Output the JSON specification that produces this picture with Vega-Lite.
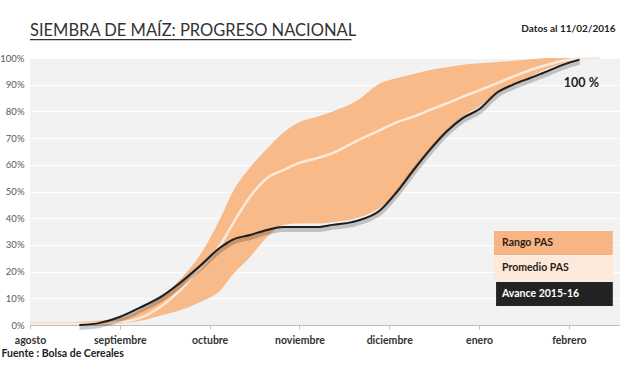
{
  "$schema": "https://vega.github.io/schema/vega-lite/v6.json",
  "width": 590,
  "height": 267,
  "autosize": {"type": "none"},
  "padding": {"left": 30, "top": 58, "right": 0, "bottom": 50},
  "background": "white",
  "config": {
    "view": {"fill": "#F2F2F2", "stroke": null},
    "font": "Lato",
    "axisY": {"tickCount": 10, "labelFontSize": 9.5, "labelColor": "#595959", "domain": false, "ticks": false, "gridColor": "#FFFFFF", "gridWidth": 1, "labelPadding": 6, "labelExpr": "datum.value + '%'", "title": null}
  },
  "datasets": {
    "curvas": [
      {"m": 0.00, "lo": 0, "hi": 1.0, "prom": 0.5, "avance": null},
      {"m": 0.33, "lo": 0, "hi": 1.0, "prom": 0.5, "avance": null},
      {"m": 0.55, "lo": 0, "hi": 1.2, "prom": 0.5, "avance": 0},
      {"m": 0.78, "lo": 0, "hi": 1.7, "prom": 0.7, "avance": 0.8},
      {"m": 1.00, "lo": 0.5, "hi": 2.5, "prom": 1.0, "avance": 3.0},
      {"m": 1.22, "lo": 1.5, "hi": 5.5, "prom": 2.6, "avance": 6.4},
      {"m": 1.48, "lo": 3.7, "hi": 11, "prom": 7.5, "avance": 11},
      {"m": 1.67, "lo": 5.5, "hi": 17, "prom": 13, "avance": 15.7},
      {"m": 1.89, "lo": 8.5, "hi": 26, "prom": 21, "avance": 22},
      {"m": 2.12, "lo": 13, "hi": 40, "prom": 30, "avance": 29},
      {"m": 2.26, "lo": 19, "hi": 50, "prom": 38, "avance": 32},
      {"m": 2.45, "lo": 25.5, "hi": 59, "prom": 48, "avance": 33.7},
      {"m": 2.64, "lo": 33, "hi": 66, "prom": 55, "avance": 35.6},
      {"m": 2.82, "lo": 37.5, "hi": 72, "prom": 58, "avance": 36.7},
      {"m": 3.00, "lo": 38, "hi": 76, "prom": 60.7, "avance": 36.7},
      {"m": 3.20, "lo": 38, "hi": 78, "prom": 62.5, "avance": 36.7},
      {"m": 3.37, "lo": 38.5, "hi": 80, "prom": 64.4, "avance": 37.5},
      {"m": 3.64, "lo": 40, "hi": 84, "prom": 69, "avance": 39},
      {"m": 3.90, "lo": 44, "hi": 90.5, "prom": 73, "avance": 43},
      {"m": 4.09, "lo": 50, "hi": 92.5, "prom": 76, "avance": 50},
      {"m": 4.27, "lo": 57, "hi": 94, "prom": 78, "avance": 58},
      {"m": 4.45, "lo": 65, "hi": 95.5, "prom": 80.5, "avance": 65.5},
      {"m": 4.64, "lo": 72, "hi": 96.5, "prom": 83, "avance": 72.5},
      {"m": 4.82, "lo": 78, "hi": 97.5, "prom": 85.5, "avance": 77.5},
      {"m": 5.01, "lo": 82, "hi": 98, "prom": 88, "avance": 81},
      {"m": 5.20, "lo": 87, "hi": 98.5, "prom": 90.5, "avance": 87},
      {"m": 5.38, "lo": 90, "hi": 99, "prom": 93, "avance": 90},
      {"m": 5.57, "lo": 93, "hi": 99.5, "prom": 95.5, "avance": 92.5},
      {"m": 5.76, "lo": 96, "hi": 100, "prom": 97.5, "avance": 95},
      {"m": 5.94, "lo": 98, "hi": 100, "prom": 99, "avance": 97.5},
      {"m": 6.12, "lo": 99.3, "hi": 100, "prom": 99.8, "avance": 99.4},
      {"m": 6.35, "lo": 100, "hi": 100, "prom": 100, "avance": null}
    ]
  },
  "layer": [
    {
      "data": {"name": "curvas"},
      "mark": {"type": "area", "interpolate": "monotone", "color": "#F8BA89", "opacity": 1},
      "encoding": {
        "x": {
          "field": "m", "type": "quantitative",
          "scale": {"domain": [0, 6.57], "nice": false, "zero": false},
          "axis": {
            "title": "Fuente : Bolsa de Cereales",
            "titleAnchor": "start", "titleAlign": "left", "titleBaseline": "alphabetic",
            "titleX": -29, "titleY": 31, "titleFontSize": 10.5, "titleFontWeight": "bold", "titleColor": "#222222",
            "values": [0, 1, 2, 3, 4, 5, 6],
            "labelExpr": "['agosto','septiembre','octubre','noviembre','diciembre','enero','febrero'][datum.value]",
            "labelFlush": false,
            "labelFontSize": 10.5, "labelFontWeight": "bold", "labelColor": "#333333", "labelPadding": 6,
            "tickSize": 4, "tickColor": "#BFBFBF", "domainColor": "#BFBFBF", "grid": false
          }
        },
        "y": {
          "field": "lo", "type": "quantitative",
          "scale": {"domain": [0, 100], "nice": false}
        },
        "y2": {"field": "hi"}
      }
    },
    {
      "data": {"name": "curvas"},
      "mark": {"type": "line", "interpolate": "monotone", "stroke": "#FDE9DA", "strokeWidth": 2.5},
      "encoding": {"x": {"field": "m", "type": "quantitative"}, "y": {"field": "prom", "type": "quantitative"}}
    },
    {
      "data": {"name": "curvas"},
      "mark": {"type": "line", "interpolate": "monotone", "stroke": "#000000", "strokeOpacity": 0.2, "strokeWidth": 6, "yOffset": 2},
      "encoding": {"x": {"field": "m", "type": "quantitative"}, "y": {"field": "avance", "type": "quantitative"}}
    },
    {
      "data": {"name": "curvas"},
      "mark": {"type": "line", "interpolate": "monotone", "stroke": "#1E1E1E", "strokeWidth": 2},
      "encoding": {"x": {"field": "m", "type": "quantitative"}, "y": {"field": "avance", "type": "quantitative"}}
    },
    {
      "data": {"values": [{"t": "SIEMBRA DE MAÍZ: PROGRESO NACIONAL"}]},
      "mark": {"type": "text", "fontSize": 16.5, "fontWeight": "normal", "color": "#333333", "align": "left", "baseline": "alphabetic"},
      "encoding": {"x": {"datum": 0, "type": "quantitative"}, "y": {"datum": 108.2, "type": "quantitative"}, "text": {"field": "t", "type": "nominal"}}
    },
    {
      "data": {"values": [{"t": "SIEMBRA DE MAÍZ: PROGRESO NACIONAL"}]},
      "mark": {"type": "rule", "color": "#333333", "strokeWidth": 1.2},
      "encoding": {"x": {"datum": 0, "type": "quantitative"}, "x2": {"datum": 3.58}, "y": {"datum": 106.9, "type": "quantitative"}}
    },
    {
      "data": {"values": [{"t": "100 %"}]},
      "mark": {"type": "text", "fontSize": 12.5, "fontWeight": "bold", "color": "#222222", "align": "center", "baseline": "middle"},
      "encoding": {"x": {"datum": 6.14, "type": "quantitative"}, "y": {"datum": 90.6, "type": "quantitative"}, "text": {"field": "t", "type": "nominal"}}
    },
    {
      "data": {"values": [{"t": "Datos al 11/02/2016"}]},
      "mark": {"type": "text", "fontSize": 10, "fontWeight": "bold", "color": "#222222", "align": "left", "baseline": "middle"},
      "encoding": {"x": {"datum": 5.47, "type": "quantitative"}, "y": {"datum": 111.0, "type": "quantitative"}, "text": {"field": "t", "type": "nominal"}}
    },
    {
      "data": {"values": [{"t": "Rango PAS"}]},
      "mark": {"type": "rect", "color": "#F8B583"},
      "encoding": {"x": {"datum": 5.167, "type": "quantitative"}, "x2": {"datum": 6.49}, "y": {"datum": 35.2, "type": "quantitative"}, "y2": {"datum": 26.2}}
    },
    {
      "data": {"values": [{"t": "Promedio PAS"}]},
      "mark": {"type": "rect", "color": "#FDE9DA"},
      "encoding": {"x": {"datum": 5.167, "type": "quantitative"}, "x2": {"datum": 6.49}, "y": {"datum": 25.8, "type": "quantitative"}, "y2": {"datum": 16.5}}
    },
    {
      "data": {"values": [{"t": "Avance 2015-16"}]},
      "mark": {"type": "rect", "color": "#222222"},
      "encoding": {"x": {"datum": 5.19, "type": "quantitative"}, "x2": {"datum": 6.49}, "y": {"datum": 16.1, "type": "quantitative"}, "y2": {"datum": 7.1}}
    },
    {
      "data": {"values": [{"t": "Rango PAS"}]},
      "mark": {"type": "text", "fontSize": 10.5, "fontWeight": "bold", "color": "#2A1E16", "align": "left", "baseline": "middle"},
      "encoding": {"x": {"datum": 5.256, "type": "quantitative"}, "y": {"datum": 30.7, "type": "quantitative"}, "text": {"field": "t", "type": "nominal"}}
    },
    {
      "data": {"values": [{"t": "Promedio PAS"}]},
      "mark": {"type": "text", "fontSize": 10.5, "fontWeight": "bold", "color": "#2A1E16", "align": "left", "baseline": "middle"},
      "encoding": {"x": {"datum": 5.256, "type": "quantitative"}, "y": {"datum": 21.2, "type": "quantitative"}, "text": {"field": "t", "type": "nominal"}}
    },
    {
      "data": {"values": [{"t": "Avance 2015-16"}]},
      "mark": {"type": "text", "fontSize": 10.5, "fontWeight": "bold", "color": "#FFFFFF", "align": "left", "baseline": "middle"},
      "encoding": {"x": {"datum": 5.256, "type": "quantitative"}, "y": {"datum": 11.6, "type": "quantitative"}, "text": {"field": "t", "type": "nominal"}}
    }
  ]
}
